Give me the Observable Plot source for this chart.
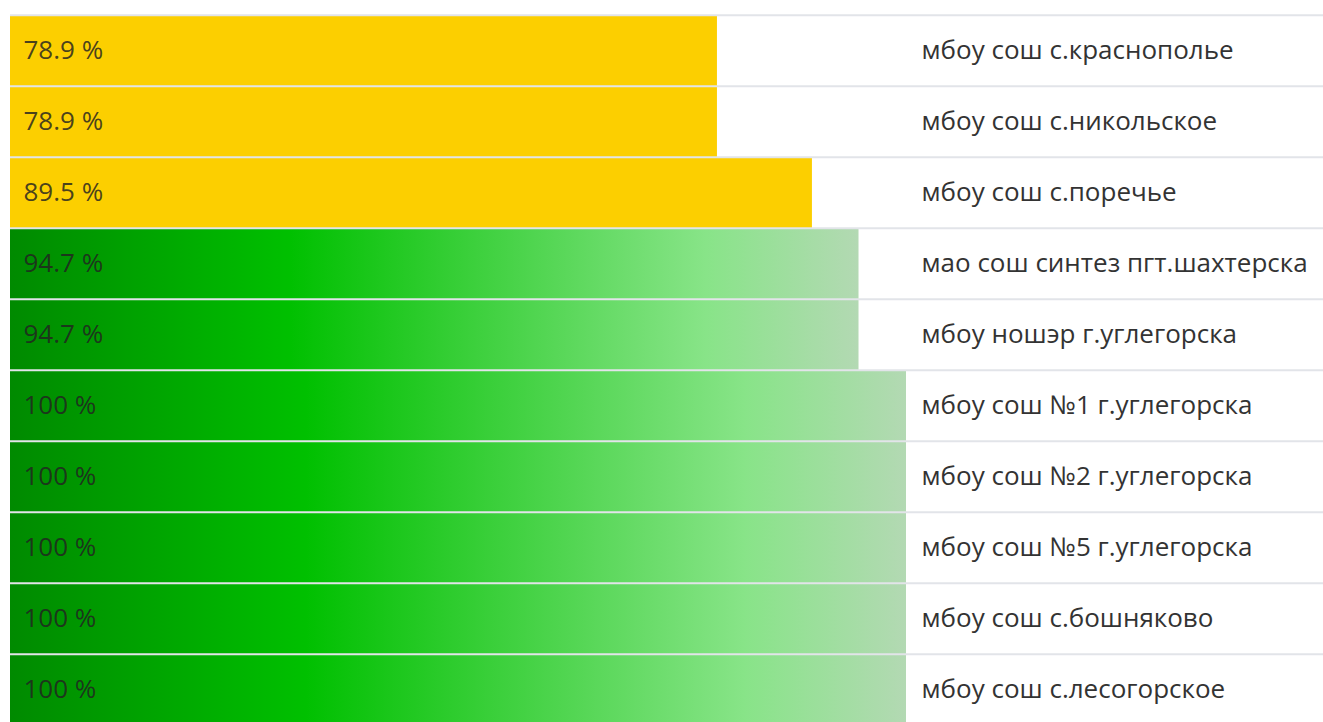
<!DOCTYPE html>
<html>
<head>
<meta charset="utf-8">
<script src="https://cdn.jsdelivr.net/npm/d3@7"></script>
<script src="https://cdn.jsdelivr.net/npm/@observablehq/plot@0.6"></script>
<style>
  html, body { margin: 0; padding: 0; background: #fff; overflow: hidden; }
</style>
</head>
<body>
<div id="chart"></div>
<script>
const schools = [
  "мбоу сош с.краснополье",
  "мбоу сош с.никольское",
  "мбоу сош с.поречье",
  "мао сош синтез пгт.шахтерска",
  "мбоу ношэр г.углегорска",
  "мбоу сош №1 г.углегорска",
  "мбоу сош №2 г.углегорска",
  "мбоу сош №5 г.углегорска",
  "мбоу сош с.бошняково",
  "мбоу сош с.лесогорское"
];
const percents = [78.9, 78.9, 89.5, 94.7, 94.7, 100, 100, 100, 100, 100];
const tiers = ["yellow", "yellow", "yellow", "green", "green", "green", "green", "green", "green", "green"];

const data = schools.map((name, i) => ({name, value: percents[i], tier: tiers[i]}));

const W = 1323, H = 722;
const yTop = 13, rowH = 71.44;
const yRange = [yTop, yTop + rowH * schools.length];

const plot = Plot.plot({
  width: W,
  height: H,
  marginLeft: 10,
  marginRight: 417,
  marginTop: 0,
  marginBottom: 0,
  x: {domain: [0, 100], axis: null},
  y: {domain: schools, range: yRange, padding: 0, axis: null},
  style: {fontFamily: "'Open Sans', sans-serif", background: "#fff", overflow: "visible"},
  marks: [
    Plot.barX(data.filter(d => d.tier === "yellow"), {x: "value", y: "name", fill: "#fccf00"}),
    Plot.barX(data.filter(d => d.tier === "green"), {x: "value", y: "name", fill: "url(#greenGrad)"}),
    Plot.ruleY(schools, {y: d => d, dy: -rowH / 2, stroke: "#e2e4e9", strokeWidth: 2, insetLeft: 0, insetRight: -417}),
    Plot.text(data, {x: 0, y: "name", text: d => d.value + " %", textAnchor: "start", dx: 13, fill: "#222", fillOpacity: 0.82, fontSize: 26}),
    Plot.text(data, {y: "name", text: "name", frameAnchor: "right", textAnchor: "start", dx: 15, fill: "#333", fontSize: 26})
  ]
});

const ns = "http://www.w3.org/2000/svg";
const defs = document.createElementNS(ns, "defs");
const grad = document.createElementNS(ns, "linearGradient");
grad.setAttribute("id", "greenGrad");
grad.setAttribute("x1", "0"); grad.setAttribute("x2", "1");
grad.setAttribute("y1", "0"); grad.setAttribute("y2", "0");
[["0", "#008a00"], ["0.33", "#00c000"], ["0.82", "#88e488"], ["1", "#b3d9b3"]].forEach(([o, c]) => {
  const s = document.createElementNS(ns, "stop");
  s.setAttribute("offset", o);
  s.setAttribute("stop-color", c);
  grad.appendChild(s);
});
defs.appendChild(grad);
plot.insertBefore(defs, plot.firstChild);

document.getElementById("chart").appendChild(plot);
</script>
</body>
</html>
